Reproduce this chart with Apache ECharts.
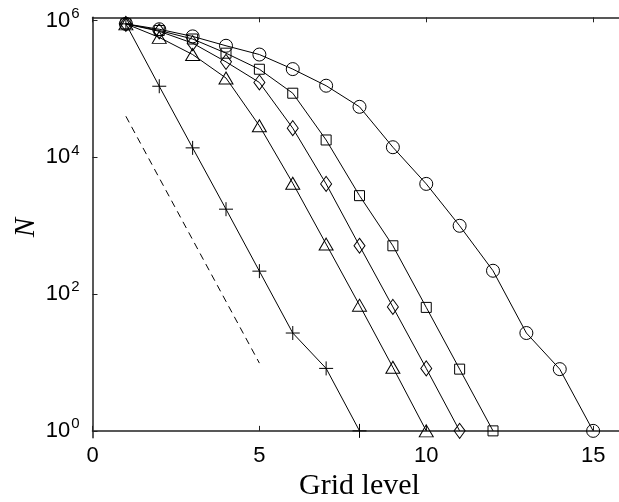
<!DOCTYPE html>
<html><head><meta charset="utf-8">
<script src="https://cdn.jsdelivr.net/npm/echarts@6/dist/echarts.min.js"></script>
<style>html,body{margin:0;padding:0;background:#fff}#c{width:619px;height:502px}</style>
</head><body><div id="c"></div>
<script>
// x tick values and y tick exponents (10^n)
const xTicks = [0, 5, 10, 15];
const yTickExps = [0, 2, 4, 6];

// N per grid level (level = index + 1)
const plusVals   = [9e5, 1.1e5, 1.38e4, 1.75e3, 217, 27, 8.2, 1];
const triVals    = [9e5, 5.7e5, 3.2e5, 1.45e5, 2.9e4, 4.2e3, 540, 69, 8.5, 1];
const diaVals    = [9e5, 7.0e5, 4.7e5, 2.5e5, 1.25e5, 2.68e4, 4.1e3, 510, 65, 8.2, 1];
const sqVals     = [9e5, 7.2e5, 5.4e5, 3.35e5, 1.95e5, 8.7e4, 1.8e4, 2.76e3, 510, 64, 8, 1];
const circVals   = [9e5, 7.5e5, 5.9e5, 4.3e5, 3.2e5, 1.96e5, 1.12e5, 5.5e4, 1.41e4, 4.1e3, 1.0e3, 220, 27, 8, 1];

// dashed reference slope line
const refLevels = [1, 5];
const refVals = [4.0e4, 9.8];

function pts(vals) { return vals.map((v, i) => [i + 1, Math.log10(v)]); }

const chart = echarts.init(document.getElementById('c'), null, {renderer: 'canvas'});

const mk = (symbol, size) => ({
  symbol: symbol,
  symbolSize: size,
  itemStyle: {color: 'rgba(0,0,0,0)', borderColor: '#000', borderWidth: 1},
  lineStyle: {color: '#000', width: 1},
});

function lineSeries(vals, symbol, size) {
  return Object.assign({
    type: 'line',
    data: pts(vals),
    showAllSymbol: true,
    silent: true,
    animation: false,
  }, mk(symbol, size));
}

const axisLineStyle = {color: '#222', width: 1.5};

chart.setOption({
  animation: false,
  backgroundColor: '#fff',
  grid: {left: 92.5, top: 17.3, width: 534, height: 420.4, containLabel: false, outerBoundsMode: 'none'},
  xAxis: [{
    type: 'value', min: 0, max: 16, position: 'bottom',
    axisLine: {show: true, lineStyle: axisLineStyle},
    axisTick: {show: true, inside: true, length: 5, customValues: xTicks, lineStyle: {color: '#222', width: 1}},
    axisLabel: {customValues: xTicks, fontFamily: 'Liberation Sans', fontSize: 22, color: '#000', margin: 7},
    splitLine: {show: false},
    name: 'Grid level', nameLocation: 'middle', nameGap: 28,
    nameTextStyle: {fontFamily: 'Liberation Serif', fontSize: 30, color: '#000'}
  }, {
    type: 'value', min: 0, max: 16, position: 'top',
    axisLine: {show: true, lineStyle: axisLineStyle},
    axisTick: {show: true, inside: true, length: 5, customValues: xTicks, lineStyle: {color: '#222', width: 1}},
    axisLabel: {show: false},
    splitLine: {show: false}
  }],
  yAxis: [{
    type: 'value', min: -0.1, max: 6.05,
    axisLine: {show: true, lineStyle: axisLineStyle},
    axisTick: {show: true, inside: true, length: 5, customValues: yTickExps, lineStyle: {color: '#222', width: 1}},
    axisLabel: {
      customValues: yTickExps, margin: 13, color: '#000',
      formatter: v => '{b|10}{s|' + Math.round(v) + '}',
      rich: {
        b: {fontFamily: 'Liberation Sans', fontSize: 22, color: '#000'},
        s: {fontFamily: 'Liberation Sans', fontSize: 15, color: '#000', padding: [0, 0, 14, 1]}
      }
    },
    splitLine: {show: false},
    name: 'N', nameLocation: 'middle', nameGap: 52, nameRotate: 90, nameMoveOverlap: false,
    nameTextStyle: {fontFamily: 'Liberation Serif', fontStyle: 'italic', fontSize: 29, color: '#000'}
  }],
  series: [
    lineSeries(plusVals, 'path://M10,0L10,20M0,10L20,10', 14),
    lineSeries(triVals, 'triangle', [14, 12]),
    lineSeries(diaVals, 'diamond', [11, 15]),
    lineSeries(sqVals, 'rect', 10),
    lineSeries(circVals, 'circle', 13),
    {
      type: 'line', silent: true, symbol: 'none',
      data: refLevels.map((x, i) => [x, Math.log10(refVals[i])]),
      lineStyle: {color: '#000', width: 1, type: [7, 5]}
    }
  ]
});
</script>
</body></html>
